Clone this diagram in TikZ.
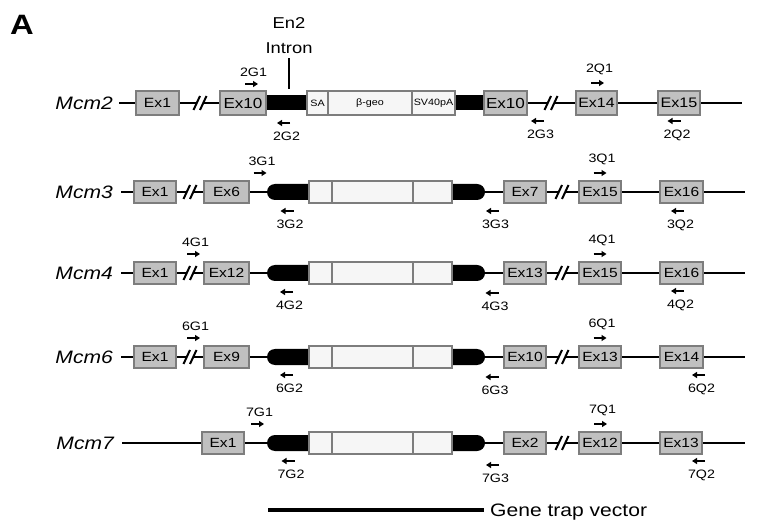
\documentclass[tikz,border=0pt]{standalone}
\usepackage{fontspec}
\setmainfont{Liberation Sans}[FakeStretch=1.17]
\usetikzlibrary{arrows.meta,positioning,shapes.misc}
\definecolor{exonfill}{RGB}{192,192,192}
\definecolor{exonedge}{RGB}{125,125,125}
\definecolor{vecfill}{RGB}{246,246,246}
\tikzset{
  slashbreak/.pic={
    \fill[white] (-6.5,7) -- (0,-7) -- (6.5,-7) -- (0,7) -- cycle;
    \draw[line width=2pt] (-6.5,7) -- (0,-7) (0,7) -- (6.5,-7);
  }
}

\begin{document}
\begin{tikzpicture}[x=1pt,y=-1pt,
    backbone/.style={line width=1.6pt},
    exon/.style={draw=exonedge,fill=exonfill,line width=2.2pt,inner sep=0pt,
      minimum height=22pt},
    vecbox/.style={draw=exonedge,fill=vecfill,line width=2pt,inner sep=0pt,
      minimum height=22pt,font=\fontsize{9.2}{10}\selectfont},
    intron/.style={fill=black,inner sep=0pt,minimum height=16pt},
    gene/.style={font=\fontsize{18}{20}\selectfont\itshape,inner sep=0pt,anchor=east},
    primer/.style={font=\fontsize{12.2}{13}\selectfont,inner sep=0pt},
    fwd/.style={line width=1.8pt,-{Triangle[length=5pt,width=6pt]}}]
  \fill[white] (0,0) rectangle (768,526);
  \useasboundingbox (0,0) rectangle (768,526);

  \node[font=\fontsize{28}{30}\selectfont\bfseries,inner sep=0pt] (panel) at (22,25) {A};

  % Mcm2 row, with the labelled trap cassette
  \node[gene] (g2) at (113,103) {Mcm2};
  \coordinate (g2e) at (742,103);
  \draw[backbone] ([xshift=6pt]g2.east) -- (g2e);
  \node[intron,minimum height=15pt,minimum width=39pt] (b2l) at (286.5,103) {};
  \node[intron,minimum height=15pt,minimum width=27pt] (b2r) at (469.5,103) {};
  \node[vecbox,minimum height=24pt,minimum width=21pt] (v2a) at (317.5,103) {SA};
  \node[vecbox,minimum height=24pt,minimum width=84pt] (v2b) at (370,103) {β-geo};
  \node[vecbox,minimum height=24pt,minimum width=43pt] (v2c) at (433.5,103) {SV40pA};
  \foreach \id/\lab/\xc/\ww/\fs in {a/Ex1/157.5/43/13.4,b/Ex10/243/46/14.6,
      c/Ex10/505.5/43/14.6,d/Ex14/596.5/41/13.6,e/Ex15/679/42/13.8}{
    \node[exon,minimum height=24pt,minimum width=\ww,font=\fontsize{\fs}{16}\selectfont]
      (e2\id) at (\xc,103) {\lab};
  }
  \pic at (200,103) {slashbreak};
  \pic at (551,103) {slashbreak};

  \node[font=\fontsize{15.7}{17}\selectfont,inner sep=0pt] (en2) at (289,23) {En2};
  \node[font=\fontsize{15.7}{17}\selectfont,inner sep=0pt,below=13.8pt of en2] (intr) {Intron};
  \draw[backbone] ([yshift=-4.5pt]intr.south) -- ([yshift=6pt]intr.south |- b2l.north);

  % Mcm3, Mcm4, Mcm6 rows
  \foreach \g/\yy/\ea/\eb/\ec/\ed in {3/192/6/7/15/16,4/273/12/13/15/16,6/357/9/10/13/14}{
    \node[gene] (g\g) at (113,\yy) {Mcm\g};
    \coordinate (g\g e) at (745,\yy);
    \draw[backbone] ([xshift=8pt]g\g.east) -- (g\g e);
    \node[intron,rounded rectangle,rounded rectangle right arc=none,minimum width=43pt]
      (b\g l) at (288.5,\yy) {};
    \node[intron,rounded rectangle,rounded rectangle left arc=none,minimum width=34pt]
      (b\g r) at (468,\yy) {};
    \node[vecbox,minimum width=23pt] (v\g a) at (320.5,\yy) {};
    \node[vecbox,minimum width=81pt] (v\g b) at (372.5,\yy) {};
    \node[vecbox,minimum width=39pt] (v\g c) at (432.5,\yy) {};
    \foreach \id/\lab/\xc/\ww in {a/Ex1/155/42,b/Ex\ea/226.5/45,c/Ex\eb/525/42,
        d/Ex\ec/600/42,e/Ex\ed/681.5/43}{
      \node[exon,minimum width=\ww,font=\fontsize{13.3}{16}\selectfont]
        (e\g\id) at (\xc,\yy) {\lab};
    }
    \pic at (190,\yy) {slashbreak};
    \pic at (562,\yy) {slashbreak};
  }

  % Mcm7 row
  \node[gene] (g7) at (114,443) {Mcm7};
  \coordinate (g7e) at (745,443);
  \draw[backbone] ([xshift=8pt]g7.east) -- (g7e);
  \node[intron,rounded rectangle,rounded rectangle right arc=none,minimum width=43pt]
    (b7l) at (288.5,443) {};
  \node[intron,rounded rectangle,rounded rectangle left arc=none,minimum width=34pt]
    (b7r) at (468,443) {};
  \node[vecbox,minimum width=23pt] (v7a) at (320.5,443) {};
  \node[vecbox,minimum width=81pt] (v7b) at (372.5,443) {};
  \node[vecbox,minimum width=39pt] (v7c) at (432.5,443) {};
  \foreach \id/\lab/\xc/\ww in {a/Ex1/223/42,c/Ex2/525/42,d/Ex12/600/42,e/Ex13/681/42}{
    \node[exon,minimum width=\ww,font=\fontsize{13.3}{16}\selectfont]
      (e7\id) at (\xc,443) {\lab};
  }
  \pic at (562,443) {slashbreak};

  % forward primers
  \foreach \nm/\xx/\yy in {2G1/251.5/84,2Q1/597.5/83,3G1/260/173,3Q1/600/173,
      4G1/193.5/254,4Q1/600/254,6G1/193.5/338,6Q1/600/338,7G1/257.5/424,7Q1/600.5/424}{
    \coordinate (p\nm) at (\xx,\yy);
    \draw[fwd] ([xshift=-6.5pt]p\nm) -- ([xshift=6.5pt]p\nm);
    \node[primer,above=7.5pt of p\nm,xshift=2pt] (t\nm) {\nm};
  }
  % reverse primers
  \foreach \nm/\xx/\yy in {2G2/283.5/123,2G3/537.5/121,2Q2/674/121,3G2/287/211,
      3G3/492.5/211,3Q2/677.5/211,4G2/286.5/292,4G3/492/293,4Q2/677.5/291,
      6G2/286.5/375,6G3/492/377,6Q2/698.5/375,7G2/288/461,7G3/492.5/465,7Q2/698.5/461}{
    \coordinate (p\nm) at (\xx,\yy);
    \draw[fwd] ([xshift=6.5pt]p\nm) -- ([xshift=-6.5pt]p\nm);
    \node[primer,below=8.5pt of p\nm,xshift=3pt] (t\nm) {\nm};
  }

  % vector bar
  \node[font=\fontsize{18}{20}\selectfont,inner sep=0pt,anchor=base west] (gtv)
    at (490,516.5) {Gene trap vector};
  \coordinate (gtvs) at (268,510);
  \draw[line width=4.5pt] (gtvs) -- ([xshift=-6pt]gtvs -| gtv.west);
\end{tikzpicture}
\end{document}
